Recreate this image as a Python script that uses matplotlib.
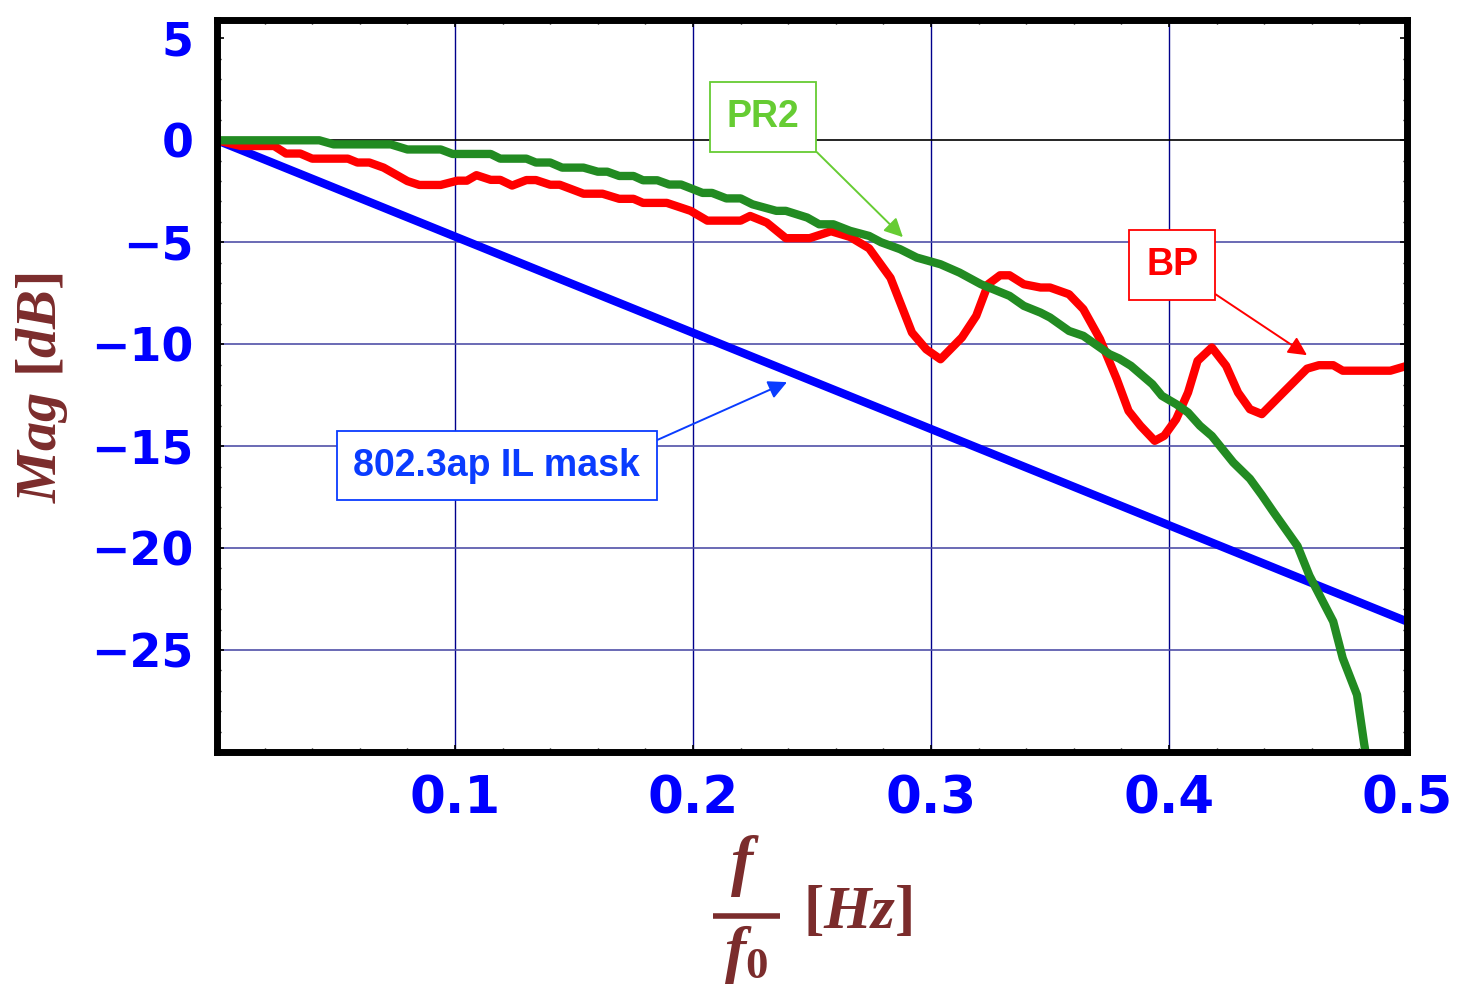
import matplotlib
matplotlib.use("Agg")
import matplotlib.pyplot as plt
from matplotlib.lines import Line2D
from matplotlib.ticker import MultipleLocator

# --- datos ---
mask_f = [0.0, 0.5]
mask_db = [0.0, -23.6]

bp_f = [0.0, 0.010, 0.024, 0.029, 0.035, 0.040, 0.055, 0.059, 0.064, 0.070,
        0.080, 0.085, 0.094, 0.101, 0.105, 0.109, 0.115, 0.119, 0.124, 0.130,
        0.134, 0.140, 0.144, 0.154, 0.162, 0.169, 0.175, 0.179, 0.189, 0.199,
        0.206, 0.220, 0.224, 0.231, 0.239, 0.249, 0.258, 0.266, 0.274, 0.283,
        0.292, 0.298, 0.304, 0.313, 0.319, 0.324, 0.329, 0.333, 0.339, 0.346,
        0.350, 0.358, 0.364, 0.371, 0.378, 0.383, 0.388, 0.394, 0.398, 0.403,
        0.408, 0.412, 0.418, 0.424, 0.429, 0.434, 0.439, 0.448, 0.458, 0.463,
        0.469, 0.473, 0.493, 0.500]
bp_db = [0.0, -0.28, -0.28, -0.65, -0.65, -0.9, -0.9, -1.09, -1.09, -1.34,
         -2.0, -2.19, -2.19, -1.98, -1.98, -1.71, -1.94, -1.94, -2.22, -1.95,
         -1.95, -2.18, -2.18, -2.62, -2.62, -2.87, -2.87, -3.07, -3.07, -3.46,
         -3.94, -3.94, -3.71, -4.04, -4.8, -4.8, -4.46, -4.74, -5.3, -6.75,
         -9.43, -10.25, -10.74, -9.67, -8.61, -7.06, -6.62, -6.62, -7.06, -7.22,
         -7.22, -7.55, -8.28, -9.75, -11.7, -13.27, -14.0, -14.74, -14.49, -13.68,
         -12.37, -10.82, -10.16, -11.06, -12.37, -13.19, -13.43, -12.37, -11.2, -11.03,
         -11.03, -11.3, -11.3, -11.06]

pr2_f = [0.0, 0.043, 0.049, 0.073, 0.080, 0.094, 0.099, 0.115, 0.119, 0.130,
         0.134, 0.140, 0.145, 0.154, 0.160, 0.164, 0.169, 0.175, 0.179, 0.185,
         0.190, 0.195, 0.204, 0.208, 0.214, 0.220, 0.225, 0.235, 0.239, 0.248,
         0.253, 0.259, 0.266, 0.274, 0.279, 0.287, 0.294, 0.304, 0.312, 0.321,
         0.333, 0.339, 0.346, 0.350, 0.358, 0.364, 0.370, 0.375, 0.379, 0.384,
         0.393, 0.397, 0.403, 0.408, 0.413, 0.418, 0.427, 0.434, 0.439, 0.444,
         0.454, 0.459, 0.469, 0.473, 0.479, 0.482, 0.484]
pr2_db = [0.0, 0.0, -0.2, -0.2, -0.45, -0.45, -0.67, -0.67, -0.9, -0.9,
          -1.09, -1.09, -1.34, -1.34, -1.54, -1.54, -1.75, -1.75, -1.96, -1.96,
          -2.17, -2.17, -2.58, -2.58, -2.85, -2.85, -3.14, -3.46, -3.46, -3.79,
          -4.12, -4.12, -4.44, -4.69, -5.0, -5.34, -5.75, -6.08, -6.49, -7.06,
          -7.63, -8.12, -8.45, -8.69, -9.35, -9.59, -10.08, -10.49, -10.7, -11.06,
          -11.96, -12.53, -12.94, -13.35, -14.0, -14.5, -15.8, -16.6, -17.4, -18.25,
          -19.9, -21.35, -23.6, -25.4, -27.2, -29.6, -31.0]

x_ticks = [0.1, 0.2, 0.3, 0.4, 0.5]
y_ticks = [5, 0, -5, -10, -15, -20, -25]
y_grid = [-5, -10, -15, -20, -25]

plt.rcParams['mathtext.fontset'] = 'custom'
plt.rcParams['mathtext.it'] = 'Liberation Serif:italic:bold'
plt.rcParams['mathtext.rm'] = 'Liberation Serif:bold'
plt.rcParams['mathtext.bf'] = 'Liberation Serif:bold'

W, H = 1459, 992
fig = plt.figure(figsize=(W / 100, H / 100), dpi=100)
ax = fig.add_axes([217 / W, 1 - 752 / H, 1190 / W, 732 / H])

# rejilla
for xv in x_ticks[:-1]:
    ax.axvline(xv, color='#00008b', lw=1.0, zorder=1)
for yv in y_grid:
    ax.axhline(yv, color='#5050a8', lw=1.2, zorder=1)
ax.axhline(0, color='black', lw=1.2, zorder=1)

ax.plot(mask_f, mask_db, color='#0000ff', lw=6, solid_capstyle='round', zorder=3)
ax.plot(bp_f, bp_db, color='#ff0000', lw=6, solid_joinstyle='round', zorder=4)
ax.plot(pr2_f, pr2_db, color='#228b22', lw=6, solid_joinstyle='round', zorder=5)

ax.set_xlim(0, 0.5)
ax.set_ylim(-30, 5.9)
ax.set_xticks(x_ticks)
ax.set_xticklabels([f'{v:.1f}' for v in x_ticks])
ax.set_yticks(y_ticks)
ax.set_yticklabels([str(v).replace('-', '\u2212') for v in y_ticks])
ax.xaxis.set_minor_locator(MultipleLocator(0.02))
ax.yaxis.set_minor_locator(MultipleLocator(1))
ax.tick_params(which='both', direction='in', top=True, right=True, color='black')
ax.tick_params(which='major', length=5, width=1.2)
ax.tick_params(which='minor', length=3, width=1.0)
ax.tick_params(axis='y', pad=17, labelsize=33, labelcolor='#0000ff')
ax.tick_params(axis='x', pad=16, labelsize=37, labelcolor='#0000ff')
for lab in ax.get_xticklabels() + ax.get_yticklabels():
    lab.set_fontweight('bold')
    lab.set_family('DejaVu Sans')

for sp in ax.spines.values():
    sp.set_linewidth(5)
    sp.set_color('black')
    sp.set_zorder(6)

# anotaciones
def etiqueta(texto, xy, xytext, color, relpos):
    ax.annotate(texto, xy=xy, xytext=xytext, textcoords='data',
                ha='center', va='center', fontsize=27, fontweight='bold',
                family='Liberation Sans', color=color, zorder=7,
                bbox=dict(boxstyle='square,pad=0.45', fc='white', ec=color, lw=1.3),
                arrowprops=dict(arrowstyle='-|>', color=color, lw=1.4,
                                mutation_scale=28, relpos=relpos,
                                shrinkA=0, shrinkB=0))

etiqueta('PR2', (0.2882, -4.75), (0.2294, 1.15), '#66cc33', (1, 0))
etiqueta('BP', (0.458, -10.54), (0.4013, -6.1), '#ff0000', (1, 0))
etiqueta('802.3ap IL mask', (0.2395, -11.86), (0.1176, -15.95), '#0a3cff', (1, 1))

# titulos de ejes
marron = '#7b2c2c'
fig.text(42 / W, 1 - 388 / H, r'$Mag\ [dB]$', rotation=90,
         ha='center', va='center', fontsize=42, color=marron)

fig.text(745 / W, 1 - 866 / H, r'$f$', ha='center', va='center',
         fontsize=48, color=marron)
fig.add_artist(Line2D([713 / W, 780 / W], [1 - 916 / H, 1 - 916 / H],
                      color=marron, lw=4, solid_capstyle='butt'))
fig.text(746 / W, 1 - 955 / H, r'$f_0$', ha='center', va='center',
         fontsize=46, color=marron)
fig.text(858 / W, 1 - 912 / H, r'$[Hz]$', ha='center', va='center',
         fontsize=44, color=marron)

plt.savefig('out.png', dpi=100)
